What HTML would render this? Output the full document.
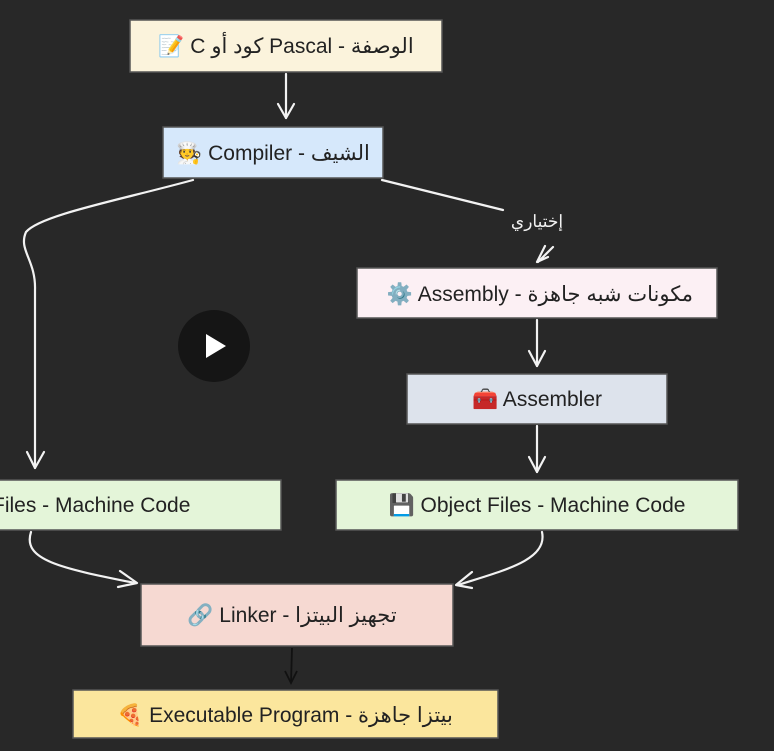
<!DOCTYPE html>
<html><head><meta charset="utf-8">
<style>
html,body{margin:0;padding:0;background:#282828;width:774px;height:751px;overflow:hidden}
svg{display:block}
text{font-family:"Liberation Sans","Noto Sans CJK SC",sans-serif;font-size:21px;fill:#222}
</style></head><body>
<svg width="774" height="751" viewBox="0 0 774 751">
<rect width="774" height="751" fill="#282828"/>
<g stroke="#555" stroke-width="1.5">
<rect x="130" y="20" width="312" height="52" fill="#fbf3dc"/>
<rect x="163" y="127" width="220" height="51" fill="#d6e8fb"/>
<rect x="357" y="268" width="360" height="50" fill="#fcf0f4"/>
<rect x="407" y="374" width="260" height="50" fill="#dde3ec"/>
<rect x="-10" y="480" width="291" height="50" fill="#e4f5d9"/>
<rect x="336" y="480" width="402" height="50" fill="#e4f5d9"/>
<rect x="141" y="584" width="312" height="62" fill="#f6d9d2"/>
<rect x="73" y="690" width="425" height="48" fill="#fbe69d"/>
</g>
<g fill="none" stroke="#f2f2f2" stroke-width="2.2" stroke-linecap="round" stroke-linejoin="round">
<path d="M286 74 L286 118"/><path d="M278 104 L286 118 L294 104"/>
<path d="M193 180 C120 200 40 215 26 232 C18 250 36 260 35 290 L35 468"/><path d="M27 452 L35 468 L44 452"/>
<path d="M382 180 L503 210"/>
<path d="M553 247 L538 262 M545 246 L537 262 L548 257"/>
<path d="M537 320 L537 366"/><path d="M529 351 L537 366 L545 351"/>
<path d="M537 426 L537 472"/><path d="M529 457 L537 472 L545 457"/>
<path d="M31 532 C22 560 60 568 135 583"/><path d="M120 571 L137 583 L118 587"/>
<path d="M542 532 C548 560 505 570 458 585"/><path d="M472 572 L456 585 L472 588"/>
</g>
<g fill="none" stroke="#111" stroke-width="1.8">
<path d="M292 648 L291 683"/><path d="M285 671 L291 683 L297 671"/>
</g>
<text x="286" y="53" text-anchor="middle">📝 C كود أو Pascal - الوصفة</text>
<text x="273" y="160" text-anchor="middle">🧑‍🍳 Compiler - الشيف</text>
<text x="537" y="227" text-anchor="middle" style="fill:#f2f2f2;font-size:17px">إختياري</text>
<text x="540" y="301" text-anchor="middle">⚙️ Assembly - مكونات شبه جاهزة</text>
<text x="537" y="406" text-anchor="middle">🧰 Assembler</text>
<text x="-8" y="512">Files - Machine Code</text>
<text x="537" y="512" text-anchor="middle">💾 Object Files - Machine Code</text>
<text x="292" y="622" text-anchor="middle">🔗 Linker - تجهيز البيتزا</text>
<text x="285" y="722" text-anchor="middle">🍕 Executable Program - بيتزا جاهزة</text>
<circle cx="214" cy="346" r="36" fill="#151515"/>
<path d="M206 334 L206 358 L226 346 Z" fill="#fff"/>
</svg>
</body></html>
